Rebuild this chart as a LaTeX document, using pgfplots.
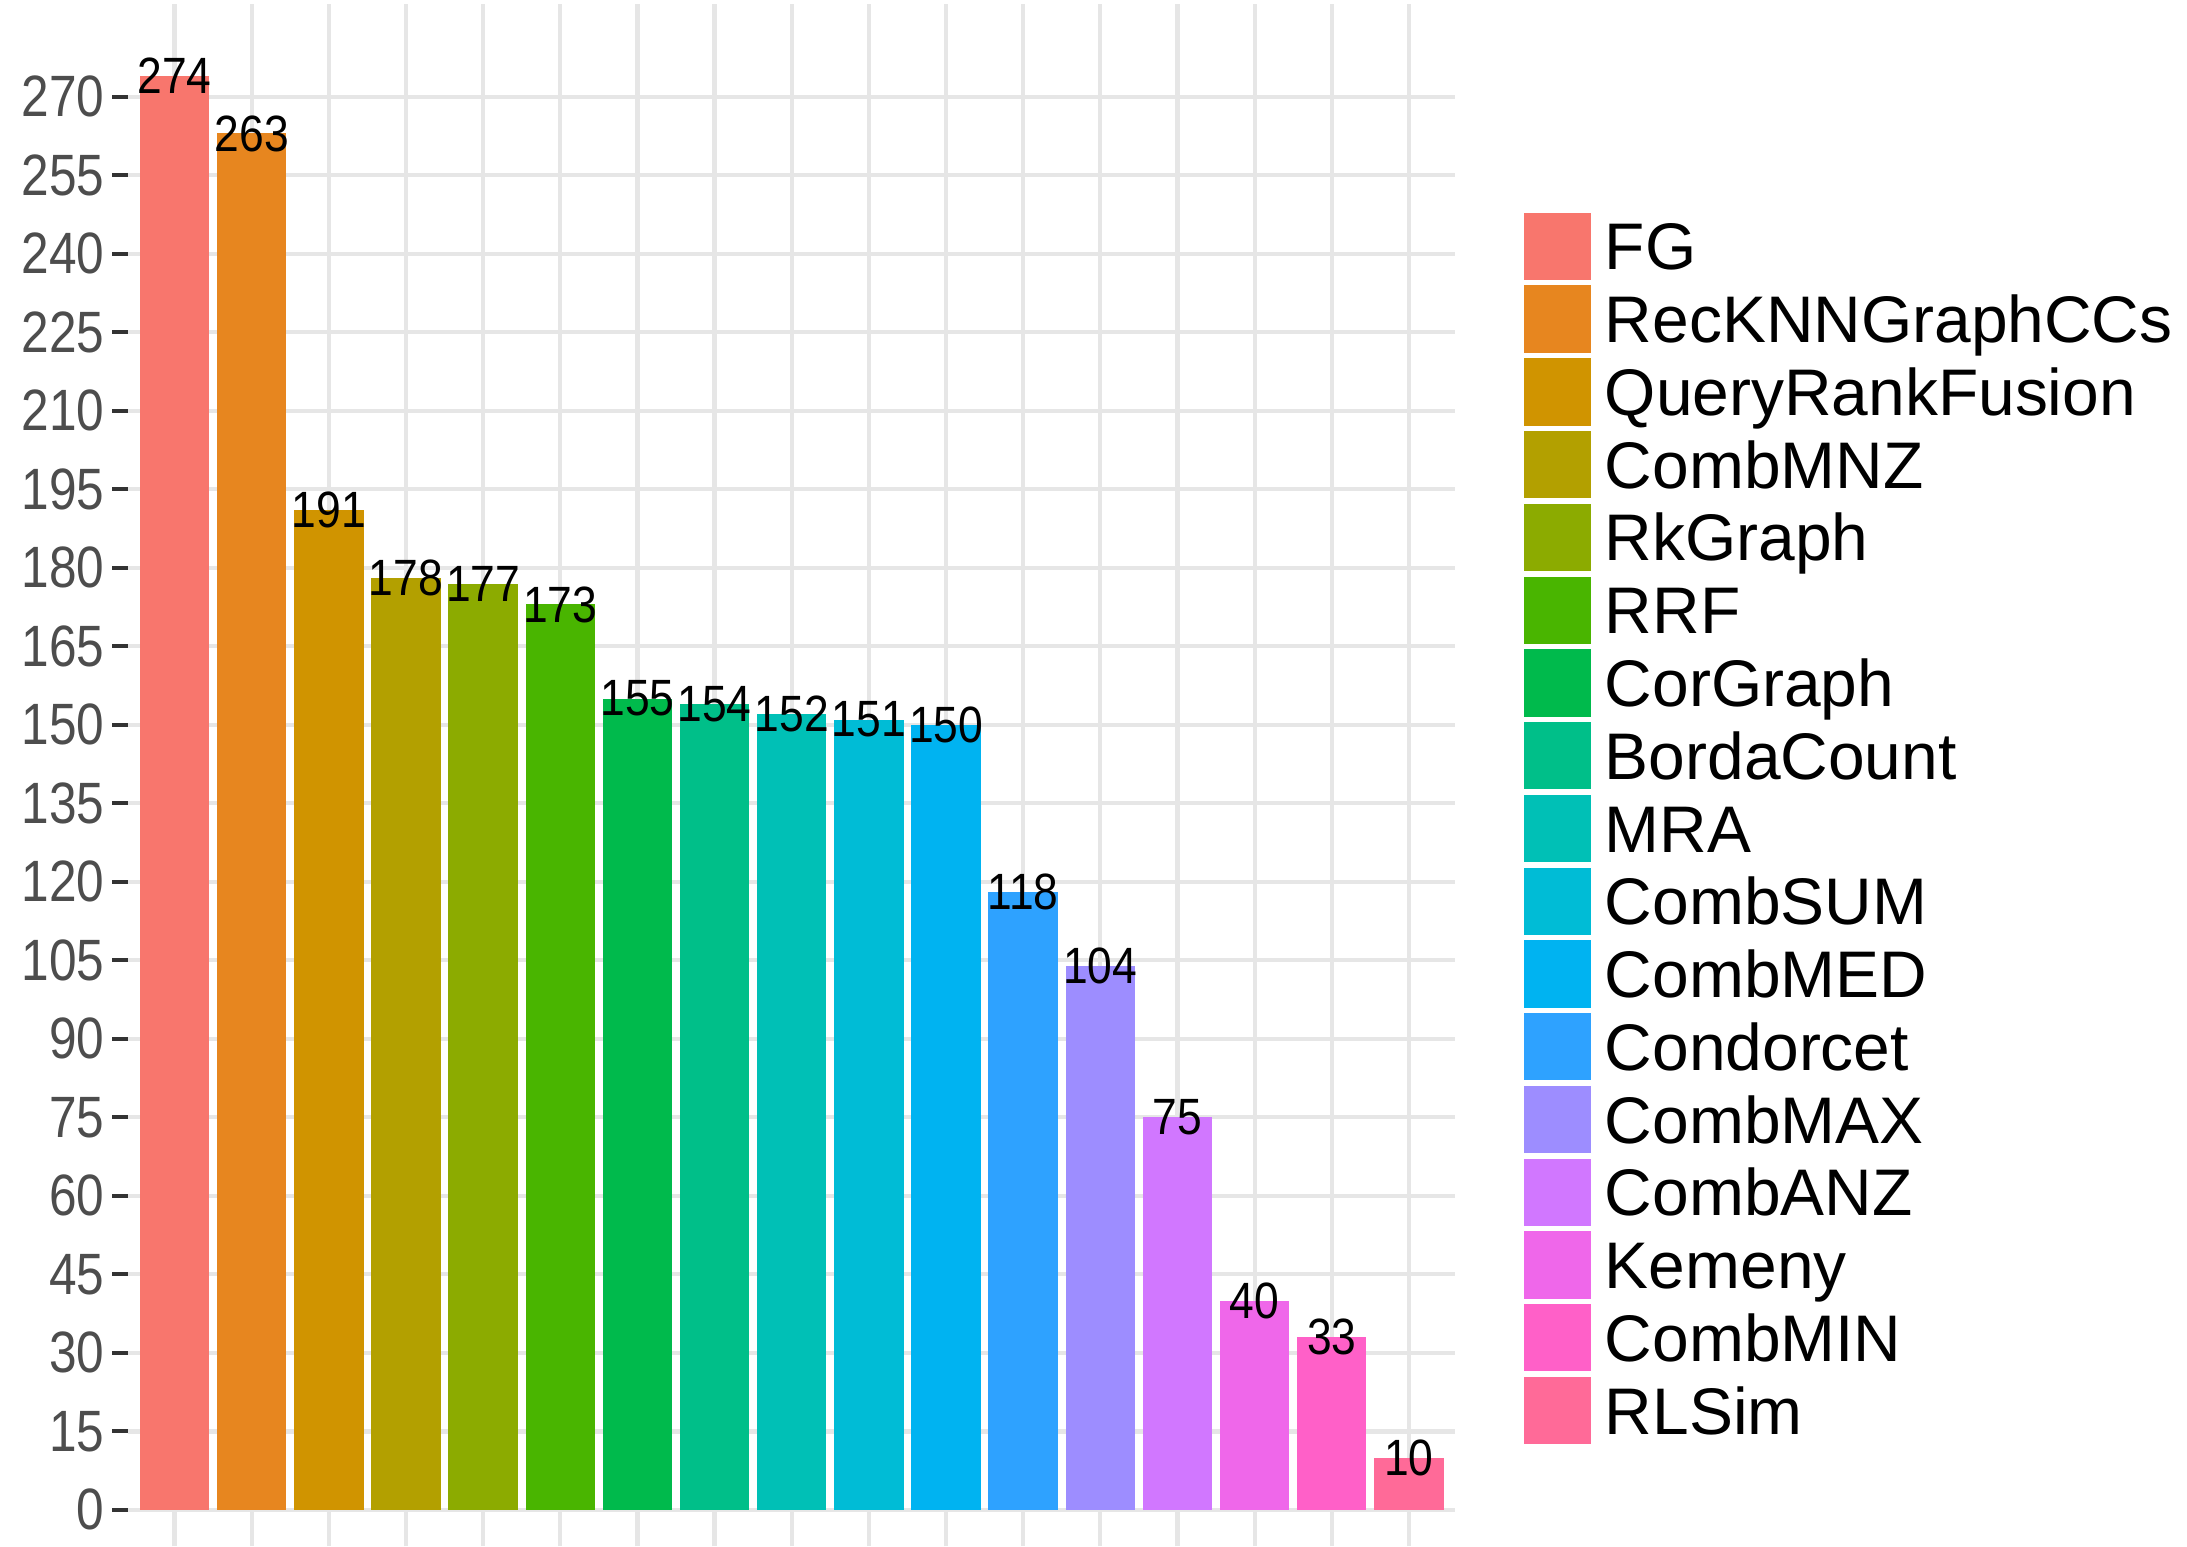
\documentclass[border=0pt]{standalone}
\usepackage{pgfplots}
\pgfplotsset{compat=1.18}
\usepackage{fontspec}
\setmainfont{Liberation Sans}
\newfontfamily\tickfamily[FakeStretch=0.85]{Liberation Sans}
\newfontfamily\labfamily[FakeStretch=0.87]{Liberation Sans}
\definecolor{c1}{HTML}{F8766D}
\definecolor{c2}{HTML}{E7861F}
\definecolor{c3}{HTML}{D09400}
\definecolor{c4}{HTML}{B3A000}
\definecolor{c5}{HTML}{8CAB00}
\definecolor{c6}{HTML}{49B500}
\definecolor{c7}{HTML}{00BA4C}
\definecolor{c8}{HTML}{00BF89}
\definecolor{c9}{HTML}{00C0B6}
\definecolor{c10}{HTML}{00BCD6}
\definecolor{c11}{HTML}{00B3F1}
\definecolor{c12}{HTML}{2EA2FF}
\definecolor{c13}{HTML}{9D8DFF}
\definecolor{c14}{HTML}{D177FF}
\definecolor{c15}{HTML}{EF67EA}
\definecolor{c16}{HTML}{FF60C8}
\definecolor{c17}{HTML}{FF6A98}
\definecolor{gridgray}{HTML}{E6E6E6}
\definecolor{tickgray}{HTML}{333333}
\definecolor{ticklab}{HTML}{4D4D4D}
\pgfplotsset{
  sqbar/.style={fill=#1, draw=none,
    legend image code/.code={\fill (0pt,-6pt) rectangle (12pt,6pt);}},
}
\begin{document}
\begin{tikzpicture}
\begin{axis}[
  at={(0,0)}, anchor=south west,
  scale only axis, width=236.625pt, height=275pt,
  xmin=-0.6, xmax=16.6, ymin=-6.96, ymax=287.7,
  ybar, bar shift=0pt, bar width=0.9,
  xtick={0,...,16}, xticklabels={}, xtick style={draw=none},
  ytick={0,15,...,270}, ytick pos=left,
  grid=major, major grid style={gridgray, line width=0.75pt},
  axis line style={draw=none},
  tick align=outside, major tick length=2.9pt,
  ytick style={tickgray, line width=0.7pt},
  /pgf/number format/assume math mode=true,
  yticklabel style={font=\tickfamily\fontsize{10.4}{10.4}\selectfont, text=ticklab, inner sep=0pt, xshift=-1.2pt},
  nodes near coords,
  every node near coord/.append style={anchor=center, inner sep=0pt, font=\labfamily\fontsize{9.1}{9.1}\selectfont, text=black},
  legend cell align=left,
  legend style={draw=none, fill=none, inner sep=0pt, at={(1,1)}, anchor=north west,
    xshift=12pt, yshift=-36.5pt, row sep=0pt, column sep=0pt,
    nodes={inner sep=0pt, inner xsep=2.5pt, minimum height=12.975pt, text height=8.4pt, text depth=0pt,
      font=\fontsize{11.75}{12}\selectfont, text=black}},
]
\addplot[sqbar=c1] coordinates {(0,274)};
\addplot[sqbar=c2] coordinates {(1,263)};
\addplot[sqbar=c3] coordinates {(2,191)};
\addplot[sqbar=c4] coordinates {(3,178)};
\addplot[sqbar=c5] coordinates {(4,177)};
\addplot[sqbar=c6] coordinates {(5,173)};
\addplot[sqbar=c7] coordinates {(6,155)};
\addplot[sqbar=c8] coordinates {(7,154)};
\addplot[sqbar=c9] coordinates {(8,152)};
\addplot[sqbar=c10] coordinates {(9,151)};
\addplot[sqbar=c11] coordinates {(10,150)};
\addplot[sqbar=c12] coordinates {(11,118)};
\addplot[sqbar=c13] coordinates {(12,104)};
\addplot[sqbar=c14] coordinates {(13,75)};
\addplot[sqbar=c15] coordinates {(14,40)};
\addplot[sqbar=c16] coordinates {(15,33)};
\addplot[sqbar=c17] coordinates {(16,10)};
\legend{FG, RecKNNGraphCCs, QueryRankFusion, CombMNZ, RkGraph, RRF, CorGraph, BordaCount, MRA, CombSUM, CombMED, Condorcet, CombMAX, CombANZ, Kemeny, CombMIN, RLSim}
\end{axis}
\pgfresetboundingbox
\path[use as bounding box] (-22.875pt,0pt) rectangle (367.125pt,275.75pt);
\end{tikzpicture}
\end{document}
